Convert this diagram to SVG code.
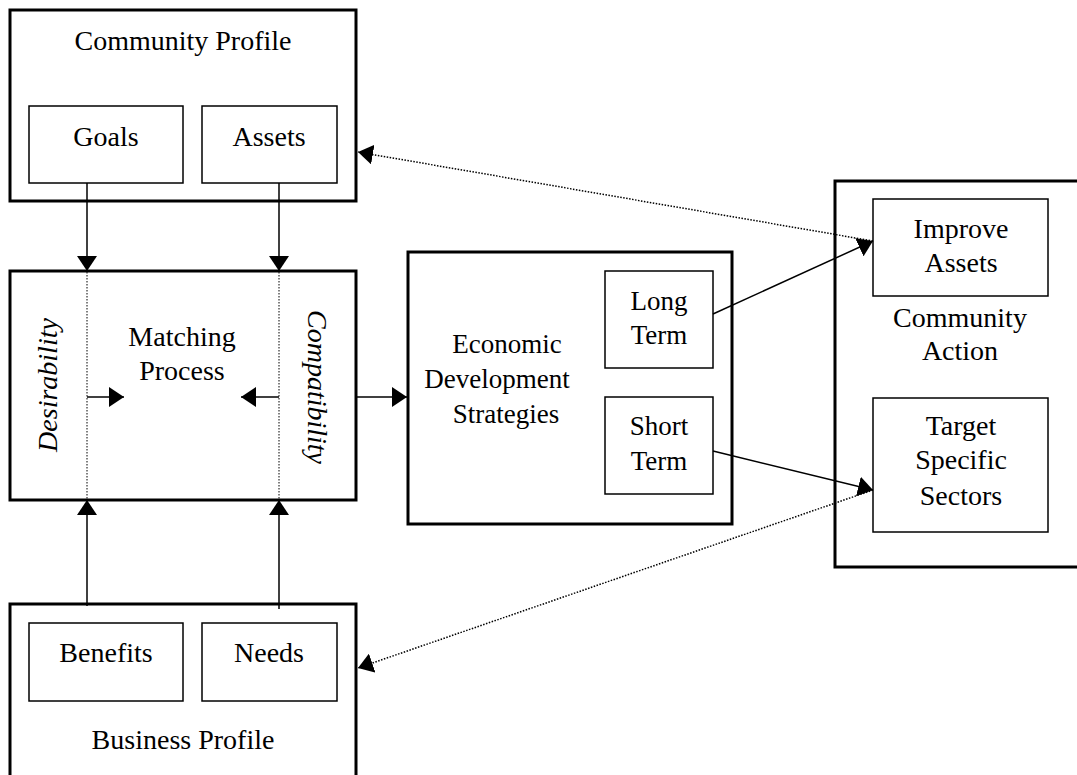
<svg xmlns="http://www.w3.org/2000/svg" width="1077" height="775" viewBox="0 0 1077 775">
<style>
.outer{fill:#fff;stroke:#000;stroke-width:3}
.inner{fill:#fff;stroke:#000;stroke-width:1.5}
text{font-family:"Liberation Serif","Times New Roman",serif;font-size:28px;fill:#000;text-anchor:middle}
.sm{font-size:27px}
.it{font-style:italic}
.c{stroke:#000;stroke-width:1.5;fill:none}
.dot{stroke:#000;stroke-width:1.5;fill:none;stroke-dasharray:1.5 1.5}
.vdot{stroke:#000;stroke-width:1;fill:none;stroke-dasharray:1.5 1.5}
</style>
<defs>
<marker id="ah" viewBox="0 0 15 20" refX="15" refY="10" markerWidth="15" markerHeight="20" markerUnits="userSpaceOnUse" orient="auto">
<path d="M0,0 L15,10 L0,20 z" fill="#000"/>
</marker>
</defs>
<rect width="1077" height="775" fill="#fff"/>

<g id="community-profile">
<rect class="outer" x="10" y="10" width="346" height="191"/>
<text x="183" y="50">Community Profile</text>
</g>
<g id="goals">
<rect class="inner" x="29" y="106" width="154" height="77"/>
<text x="106" y="146">Goals</text>
</g>
<g id="assets">
<rect class="inner" x="202" y="106" width="135" height="77"/>
<text x="269" y="146">Assets</text>
</g>

<g id="matching-process">
<rect class="outer" x="10" y="271" width="346" height="229"/>
<line class="vdot" x1="87" y1="272" x2="87" y2="499"/>
<line class="vdot" x1="279" y1="272" x2="279" y2="499"/>
<text x="182" y="346">Matching</text>
<text x="182" y="380">Process</text>
<text class="it" transform="translate(57,385) rotate(-90)">Desirability</text>
<text class="it" transform="translate(308,387) rotate(90)">Compatibility</text>
</g>

<g id="business-profile">
<rect class="outer" x="10" y="604" width="346" height="200"/>
<text x="183" y="749">Business Profile</text>
</g>
<g id="benefits">
<rect class="inner" x="29" y="623" width="154" height="78"/>
<text x="106" y="662">Benefits</text>
</g>
<g id="needs">
<rect class="inner" x="202" y="623" width="135" height="78"/>
<text x="269" y="662">Needs</text>
</g>

<g id="economic-development-strategies">
<rect class="outer" x="408" y="252" width="324" height="272"/>
<text class="sm" x="507" y="353">Economic</text>
<text class="sm" x="497" y="388">Development</text>
<text class="sm" x="506" y="423">Strategies</text>
</g>
<g id="long-term">
<rect class="inner" x="605" y="271" width="108" height="97"/>
<text class="sm" x="659" y="310">Long</text>
<text class="sm" x="659" y="344">Term</text>
</g>
<g id="short-term">
<rect class="inner" x="605" y="397" width="108" height="97"/>
<text class="sm" x="659" y="435">Short</text>
<text class="sm" x="659" y="470">Term</text>
</g>

<g id="community-action">
<rect class="outer" x="835" y="181" width="260" height="386"/>
<text x="960" y="327">Community</text>
<text x="960" y="360">Action</text>
</g>
<g id="improve-assets">
<rect class="inner" x="873" y="199" width="175" height="97"/>
<text x="961" y="238">Improve</text>
<text x="961" y="272">Assets</text>
</g>
<g id="target-specific-sectors">
<rect class="inner" x="873" y="398" width="175" height="134"/>
<text x="961" y="435">Target</text>
<text x="961" y="469">Specific</text>
<text x="961" y="505">Sectors</text>
</g>

<g id="connectors">
<line class="c" x1="87" y1="183" x2="87" y2="271" marker-end="url(#ah)"/>
<line class="c" x1="279" y1="183" x2="279" y2="271" marker-end="url(#ah)"/>
<line class="c" x1="87" y1="606" x2="87" y2="500" marker-end="url(#ah)"/>
<line class="c" x1="279" y1="609" x2="279" y2="500" marker-end="url(#ah)"/>
<line class="c" x1="87" y1="397" x2="124" y2="397" marker-end="url(#ah)"/>
<line class="c" x1="279" y1="397" x2="241" y2="397" marker-end="url(#ah)"/>
<line class="c" x1="356" y1="397" x2="407" y2="397" marker-end="url(#ah)"/>
<line class="c" x1="713" y1="314" x2="873" y2="241" marker-end="url(#ah)"/>
<line class="c" x1="713" y1="451" x2="873" y2="490" marker-end="url(#ah)"/>
<line class="dot" x1="873" y1="241" x2="358" y2="152" marker-end="url(#ah)"/>
<line class="dot" x1="873" y1="490" x2="358" y2="668" marker-end="url(#ah)"/>
</g>
</svg>
